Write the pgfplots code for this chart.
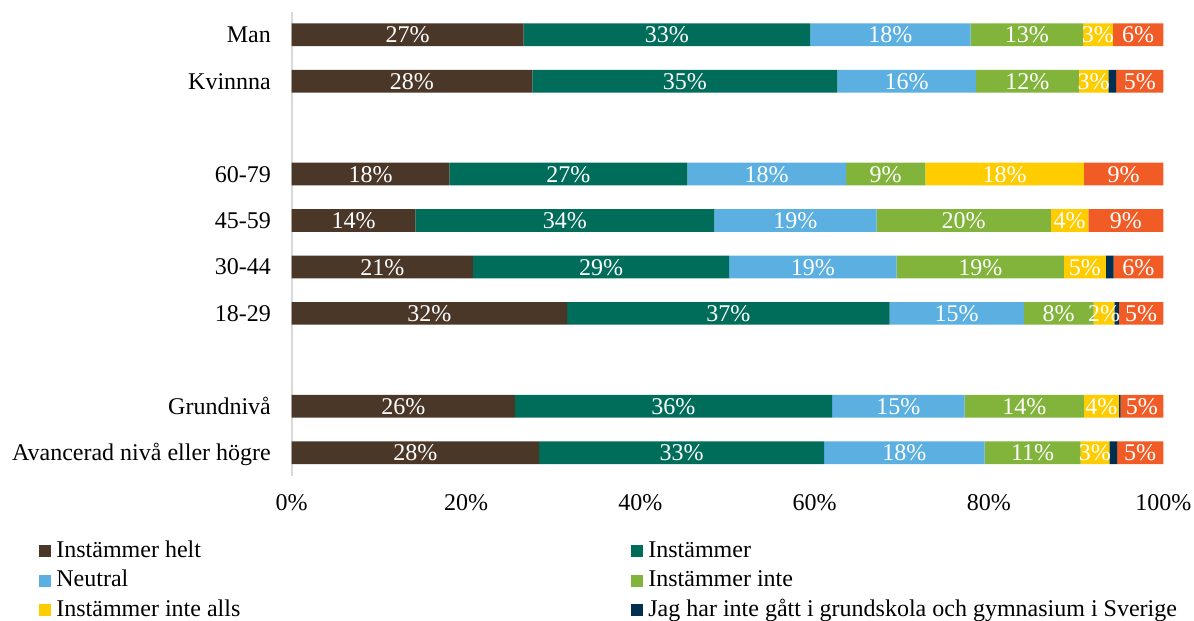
\documentclass[border=0pt]{standalone}
\usepackage{fontspec}
\setmainfont{Liberation Serif}
\usepackage{pgfplots}
\usepackage{pgfplotstable}
\pgfplotsset{compat=1.18}
\pgfkeys{/pgf/number format/assume math mode=true}

\definecolor{cBrown}{HTML}{4A3728}
\definecolor{cTeal}{HTML}{006C5A}
\definecolor{cBlue}{HTML}{5BAFE1}
\definecolor{cGreen}{HTML}{82B43B}
\definecolor{cYellow}{HTML}{FFCC00}
\definecolor{cNavy}{HTML}{00304F}
\definecolor{cOrange}{HTML}{F15B26}

% y: 9=Man, 8=Kvinnna, 6=60-79, 5=45-59, 4=30-44, 3=18-29, 1=Grundniva, 0=Avancerad
\pgfplotstableread{
y a    b    c    d    e    f   g
9 26.6 32.9 18.4 12.9 3.4  0.0 5.8
8 27.6 35.0 15.9 11.8 3.4  0.9 5.4
6 18.1 27.3 18.2 9.1  18.2 0.0 9.1
5 14.2 34.3 18.6 20.0 4.3  0.0 8.6
4 20.8 29.4 19.2 19.2 4.8  0.9 5.7
3 31.6 37.0 15.4 8.0  2.4  0.5 5.1
1 25.6 36.4 15.2 13.7 4.0  0.2 4.9
0 28.4 32.7 18.4 11.0 3.3  0.9 5.3
}\datatable
% label positions: centre of each stacked segment
\pgfplotstablecreatecol[create col/expr={\thisrow{a}/2}]{ca}\datatable
\pgfplotstablecreatecol[create col/expr={\thisrow{a}+\thisrow{b}/2}]{cb}\datatable
\pgfplotstablecreatecol[create col/expr={\thisrow{a}+\thisrow{b}+\thisrow{c}/2}]{cc}\datatable
\pgfplotstablecreatecol[create col/expr={\thisrow{a}+\thisrow{b}+\thisrow{c}+\thisrow{d}/2}]{cd}\datatable
\pgfplotstablecreatecol[create col/expr={\thisrow{a}+\thisrow{b}+\thisrow{c}+\thisrow{d}+\thisrow{e}/2}]{ce}\datatable
\pgfplotstablecreatecol[create col/expr={\thisrow{a}+\thisrow{b}+\thisrow{c}+\thisrow{d}+\thisrow{e}+\thisrow{f}+\thisrow{g}/2}]{cg}\datatable

\newcommand{\fs}{\fontsize{12}{14}\selectfont}

\pgfplotsset{
  common/.style={
    scale only axis,
    width=435.8pt, height=232.2pt,
    xmin=0, xmax=100, ymin=-0.5, ymax=9.5,
  },
  seglabel/.style={
    draw=none, mark=none, forget plot,
    point meta={\thisrow{#1}},
    nodes near coords={\pgfmathprintnumber[fixed,precision=0]{\pgfplotspointmeta}\%},
  },
}

\begin{document}
\begin{tikzpicture}
\begin{axis}[
  common,
  xbar stacked, bar width=11.35pt,
  axis x line*=bottom, axis y line*=left,
  x axis line style={draw=none},
  y axis line style={draw=black!15, line width=1pt},
  major tick length=0pt,
  tick style={draw=none},
  xtick={0,20,40,60,80,100},
  xticklabel={\pgfmathprintnumber{\tick}\%},
  ytick={0,1,3,4,5,6,8,9},
  yticklabels={Avancerad nivå eller högre, Grundnivå, 18-29, 30-44, 45-59, 60-79, Kvinnna, Man},
  tick label style={font=\fs},
  xticklabel style={text height=8.1pt, text depth=0pt},
  yticklabel style={text height=8pt, text depth=0pt},
  xticklabel shift=5.5pt,
  yticklabel shift=6.9pt,
  clip=false,
  legend columns=2,
  legend cell align=left,
  legend style={at={(axis description cs:0,0)}, anchor=north west,
    xshift=-126.6pt, yshift=-30.1pt,
    draw=none, fill=none, inner sep=0pt, font=\fs,
    nodes={inner xsep=1.25pt, inner ysep=1.375pt, text height=9pt, text depth=3pt},
    cells={anchor=west},
    /tikz/every even column/.append style={column sep=0pt}},
  legend image code/.code={\fill[#1] (0pt,-3pt) rectangle (6pt,3pt);},
]
\addplot[fill=cBrown, draw=none] table[x=a, y=y] {\datatable};
\addlegendentry{\makebox[287.5pt][l]{\hspace{1.5pt}Instämmer helt}}
\addplot[fill=cTeal, draw=none] table[x=b, y=y] {\datatable};
\addlegendentry{\hspace{1.5pt}Instämmer}
\addplot[fill=cBlue, draw=none] table[x=c, y=y] {\datatable};
\addlegendentry{\makebox[287.5pt][l]{\hspace{1.5pt}Neutral}}
\addplot[fill=cGreen, draw=none] table[x=d, y=y] {\datatable};
\addlegendentry{\hspace{1.5pt}Instämmer inte}
\addplot[fill=cYellow, draw=none] table[x=e, y=y] {\datatable};
\addlegendentry{\makebox[287.5pt][l]{\hspace{1.5pt}Instämmer inte alls}}
\addplot[fill=cNavy, draw=none] table[x=f, y=y] {\datatable};
\addlegendentry{\hspace{1.5pt}Jag har inte gått i grundskola och gymnasium i Sverige}
\addplot[fill=cOrange, draw=none, forget plot] table[x=g, y=y] {\datatable};
\coordinate (BL) at (axis description cs:0,0);
\end{axis}
\begin{axis}[
  common, hide axis, clip=false,
  every node near coord/.append style={font=\fs, text=white, anchor=center, inner sep=0pt, text height=8.1pt, text depth=0pt},
]
\addplot[seglabel=a] table[x=ca, y=y] {\datatable};
\addplot[seglabel=b] table[x=cb, y=y] {\datatable};
\addplot[seglabel=c] table[x=cc, y=y] {\datatable};
\addplot[seglabel=d] table[x=cd, y=y] {\datatable};
\addplot[seglabel=e] table[x=ce, y=y] {\datatable};
\addplot[seglabel=g] table[x=cg, y=y] {\datatable};
\end{axis}
\pgfresetboundingbox
\path[use as bounding box] ([shift={(-145.85pt,-72.55pt)}]BL) rectangle ([shift={(451.15pt,237.95pt)}]BL);
\end{tikzpicture}
\end{document}
